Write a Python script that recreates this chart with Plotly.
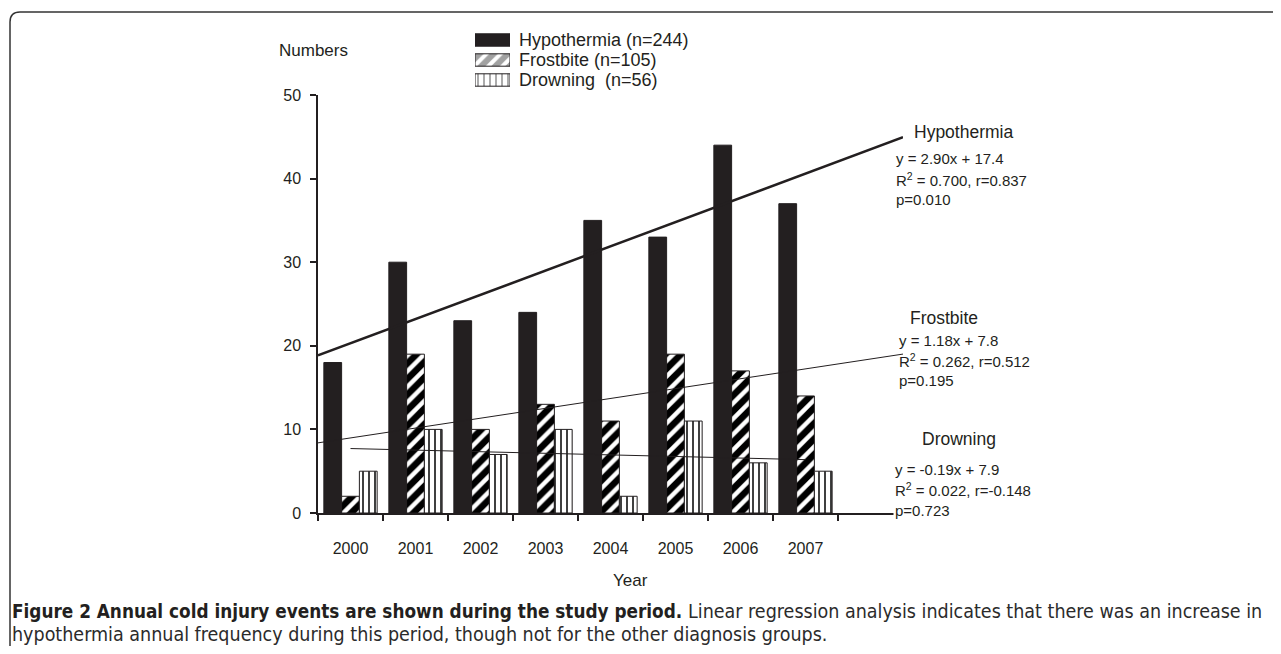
import plotly.graph_objects as go

# ---------------- data ----------------
years = ["2000", "2001", "2002", "2003", "2004", "2005", "2006", "2007"]
year_pos = [1, 2, 3, 4, 5, 6, 7, 8]
hypothermia = [18, 30, 23, 24, 35, 33, 44, 37]
frostbite = [2, 19, 10, 13, 11, 19, 17, 14]
drowning = [5, 10, 7, 10, 2, 11, 6, 5]

series_names = ["Hypothermia (n=244)", "Frostbite (n=105)", "Drowning  (n=56)"]

# regression fits: slope, intercept (x = year index 1..8)
hyp_slope, hyp_icpt = 2.90, 17.4
fro_slope, fro_icpt = 1.18, 7.8
dro_slope, dro_icpt = -0.19, 7.9
hyp_span = [0.5, 9.5]
fro_span = [0.5, 9.5]
dro_span = [1, 8]

hyp_stats = ["y = 2.90x + 17.4", "R<sup>2</sup> = 0.700, r=0.837", "p=0.010"]
fro_stats = ["y = 1.18x + 7.8", "R<sup>2</sup> = 0.262, r=0.512", "p=0.195"]
dro_stats = ["y = -0.19x + 7.9", "R<sup>2</sup> = 0.022, r=-0.148", "p=0.723"]

caption_bold = "Figure 2 Annual cold injury events are shown during the study period."
caption_rest1 = "Linear regression analysis indicates that there was an increase in"
caption_rest2 = "hypothermia annual frequency during this period, though not for the other diagnosis groups."

# ---------------- layout geometry (reference-pixel based) ----------------
OFF = 8                      # default page body margin
W, H = 1281 - 2 * OFF, 654 - 2 * OFF
AX_L, AX_R, AX_B, AX_T = 318, 903, 513, 95   # reference pixels of plot frame
LEG_T = 30
ML = AX_L - OFF
MR = W - (AX_R - OFF)
MT = LEG_T - OFF
MB = H - (AX_B - OFF)
PW = W - ML - MR
PH = H - MT - MB


def pxx(x):
    return (x - OFF - ML) / PW


def pxy(y):
    return (H - MB - (y - OFF)) / PH


INK = "#231f20"
FONT = "Liberation Sans, Arial, Helvetica, sans-serif"
NARROW = "DejaVu Sans Condensed, Liberation Sans Narrow, Arial Narrow, sans-serif"

fig = go.Figure()

line_style = dict(color=INK, width=1)
fig.add_trace(go.Bar(
    x=year_pos, y=hypothermia, name=series_names[0],
    marker=dict(color=INK, line=line_style),
))
fig.add_trace(go.Bar(
    x=year_pos, y=frostbite, name=series_names[1],
    marker=dict(color="white", line=line_style,
                pattern=dict(shape="/", fgcolor="#000000", bgcolor="white",
                             size=11, solidity=0.6, fgopacity=1)),
))
fig.add_trace(go.Bar(
    x=year_pos, y=drowning, name=series_names[2],
    marker=dict(color="white", line=line_style,
                pattern=dict(shape="|", fgcolor="#000000", bgcolor="white",
                             size=6, solidity=0.25, fgopacity=1)),
))


def fit_line(slope, icpt, span, width):
    xs = list(span)
    ys = [slope * v + icpt for v in xs]
    return go.Scatter(x=xs, y=ys, mode="lines",
                      line=dict(color=INK, width=width),
                      showlegend=False, hoverinfo="skip")


fig.add_trace(fit_line(hyp_slope, hyp_icpt, hyp_span, 2.5))
fig.add_trace(fit_line(fro_slope, fro_icpt, fro_span, 1))
fig.add_trace(fit_line(dro_slope, dro_icpt, dro_span, 1))

# legend swatches drawn as bars on a small overlay axis
fig.add_trace(go.Bar(
    x=[1, 1, 1], y=[0, 1, 2], orientation="h", width=0.62,
    xaxis="x2", yaxis="y2", showlegend=False, hoverinfo="skip",
    marker=dict(color=[INK, "white", "white"], line=dict(color=INK, width=1),
                pattern=dict(shape=["", "/", "|"], fgcolor="#000000",
                             bgcolor=[INK, "white", "white"],
                             size=[6, 10, 6], solidity=[0.3, 0.6, 0.3])),
))

annotations = []
leg_rows = [40, 60, 80]
for name, ry in zip(series_names, leg_rows):
    annotations.append(dict(text=name, x=pxx(517), y=pxy(ry), xref="paper", yref="paper",
                            xanchor="left", yanchor="middle", showarrow=False,
                            font=dict(size=18, color=INK, family=FONT)))


def label_block(title, tx, ty, stats, sx, sy):
    annotations.append(dict(text=title, x=pxx(tx), y=pxy(ty), xref="paper", yref="paper",
                            xanchor="left", yanchor="middle", showarrow=False,
                            font=dict(size=17.5, color=INK, family=FONT)))
    for i, s in enumerate(stats):
        annotations.append(dict(text=s, x=pxx(sx), y=pxy(sy + 20.5 * i), xref="paper",
                                yref="paper", xanchor="left", yanchor="middle",
                                showarrow=False, bgcolor="white" if i == 2 else None,
                                font=dict(size=15, color=INK, family=FONT)))


label_block("Hypothermia", 912, 132, hyp_stats, 894, 159)
label_block("Frostbite", 908, 318, fro_stats, 897, 340)
label_block("Drowning", 920, 439, dro_stats, 893, 469)

annotations.append(dict(text="Numbers", x=pxx(313), y=pxy(51), xref="paper", yref="paper",
                        xanchor="center", yanchor="middle", showarrow=False,
                        font=dict(size=17, color=INK, family=FONT)))
annotations.append(dict(text="Year", x=pxx(630), y=pxy(580), xref="paper", yref="paper",
                        xanchor="center", yanchor="middle", showarrow=False,
                        font=dict(size=17, color=INK, family=FONT)))

cap_font_b = dict(size=18.8, color=INK, family=NARROW)
cap_font_r = dict(size=19.5, color="#2b2b2b", family=NARROW)
annotations.append(dict(text=f"<b>{caption_bold}</b>", x=pxx(10), y=pxy(611),
                        xref="paper", yref="paper", xanchor="left", yanchor="middle",
                        showarrow=False, font=cap_font_b))
annotations.append(dict(text=caption_rest1, x=pxx(686), y=pxy(611),
                        xref="paper", yref="paper", xanchor="left", yanchor="middle",
                        showarrow=False, font=cap_font_r))
annotations.append(dict(text=caption_rest2, x=pxx(10), y=pxy(634),
                        xref="paper", yref="paper", xanchor="left", yanchor="middle",
                        showarrow=False, font=cap_font_r))

# outer rounded frame (top-left corner only visible)
x0, y0, r = 10, 12, 10
frame_path = (f"M {pxx(x0)},{pxy(700)} L {pxx(x0)},{pxy(y0 + r)} "
              f"Q {pxx(x0)},{pxy(y0)} {pxx(x0 + r)},{pxy(y0)} L {pxx(1320)},{pxy(y0)}")

fig.update_layout(
    width=W, height=H,
    margin=dict(l=ML, r=MR, t=MT, b=MB, pad=0),
    paper_bgcolor="white", plot_bgcolor="white",
    barmode="group", bargap=0.18, bargroupgap=0,
    showlegend=False,
    font=dict(family=FONT, color=INK, size=16),
    xaxis=dict(
        range=[0.5, 9.5], tickmode="array", tickvals=year_pos, ticktext=years,
        ticks="outside", ticklen=20, tickcolor="rgba(0,0,0,0)",
        showline=True, linecolor=INK, linewidth=1.5,
        showgrid=False, zeroline=False, tickfont=dict(size=16, color=INK),
        minor=dict(tickmode="array", tickvals=[v - 0.5 for v in year_pos] + [8.5],
                   ticks="outside", ticklen=6, tickcolor=INK, tickwidth=1.5, showgrid=False),
    ),
    yaxis=dict(
        range=[0, 50], domain=[0, (AX_B - AX_T) / PH],
        tickmode="array", tickvals=[0, 10, 20, 30, 40, 50],
        ticks="outside", ticklen=6, tickcolor=INK, tickwidth=1.5,
        showline=True, linecolor=INK, linewidth=1.5, ticklabelstandoff=6,
        showgrid=False, zeroline=False, tickfont=dict(size=16, color=INK),
    ),
    xaxis2=dict(domain=[pxx(475), pxx(510)], range=[0, 1], visible=False,
                anchor="y2", fixedrange=True),
    yaxis2=dict(domain=[pxy(90), pxy(30)], range=[2.5, -0.5], visible=False,
                anchor="x2", fixedrange=True),
    annotations=annotations,
    shapes=[dict(type="path", path=frame_path, xref="paper", yref="paper",
                 line=dict(color="#333333", width=1.5))],
)

fig.write_html("out.html")
